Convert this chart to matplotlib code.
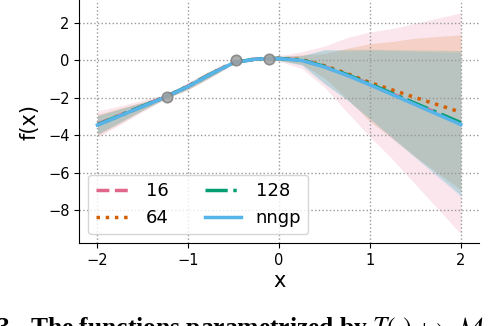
import numpy as np
import matplotlib
matplotlib.use("Agg")
import matplotlib.pyplot as plt

# ---- data ----
x_grid = [-2.0, -1.75, -1.5, -1.25, -1.0, -0.75, -0.5, -0.25, 0.0,
          0.25, 0.5, 0.75, 1.0, 1.25, 1.5, 1.75, 2.0]

labels = ["16", "64", "128", "nngp"]

mean_16 = [-3.40, -2.92, -2.42, -1.93, -1.36, -0.70, -0.10, 0.09, 0.11,
           0.02, -0.33, -0.77, -1.27, -1.79, -2.31, -2.83, -3.36]
mean_64 = [-3.44, -2.94, -2.44, -1.94, -1.37, -0.71, -0.11, 0.09, 0.12,
           0.05, -0.28, -0.70, -1.18, -1.58, -1.98, -2.37, -2.76]
mean_128 = [-3.43, -2.93, -2.43, -1.94, -1.37, -0.71, -0.11, 0.09, 0.11,
            0.02, -0.32, -0.76, -1.25, -1.77, -2.29, -2.80, -3.32]
mean_nngp = [-3.45, -2.95, -2.45, -1.95, -1.38, -0.72, -0.12, 0.08, 0.10,
             0.00, -0.35, -0.80, -1.30, -1.83, -2.36, -2.89, -3.42]

spread_16 = [0.70, 0.50, 0.30, 0.12, 0.20, 0.20, 0.08, 0.08, 0.15,
             0.45, 1.10, 2.00, 2.80, 3.50, 4.30, 5.10, 5.90]
spread_64 = [0.55, 0.40, 0.22, 0.09, 0.17, 0.17, 0.06, 0.06, 0.10,
             0.25, 0.65, 1.35, 2.08, 2.60, 3.17, 3.65, 4.13]
spread_128 = [0.50, 0.35, 0.20, 0.08, 0.15, 0.15, 0.05, 0.05, 0.10,
              0.25, 0.90, 1.35, 1.85, 2.35, 2.85, 3.35, 3.85]
spread_nngp = [0.50, 0.35, 0.20, 0.08, 0.15, 0.15, 0.05, 0.05, 0.10,
               0.25, 0.90, 1.30, 1.85, 2.35, 2.85, 3.35, 3.85]

obs_x = [-1.23, -0.48, -0.11]
obs_y = [-1.93, 0.00, 0.10]

colors = ["#e0668a", "#d55e00", "#029e73", "#56b4e9"]
styles = ["--", ":", "-.", "-"]

means = [mean_16, mean_64, mean_128, mean_nngp]
spreads = [spread_16, spread_64, spread_128, spread_nngp]

plt.rcParams["mathtext.fontset"] = "stix"

fig = plt.figure(figsize=(5.04, 3.26), dpi=100)
ax = fig.add_axes([79.3 / 504, (326 - 243.3) / 326, 399.7 / 504, 243.3 / 326])

xg = np.array(x_grid)
for m, s, c in zip(means, spreads, colors):
    m = np.array(m); s = np.array(s)
    ax.fill_between(xg, m - s, m + s, color=c, alpha=0.16, lw=0)

for m, c, ls, lab in zip(means, colors, styles, labels):
    ax.plot(xg, m, color=c, ls=ls, lw=2.5, label=lab)

ax.plot(obs_x, obs_y, "o", color="#a0a0a0", mec="#808080", mew=1.2,
        ms=7.5, alpha=0.85, zorder=5)

ax.set_xlim(-2.2, 2.2)
ax.set_ylim(-9.76, 3.23)
ax.set_xticks([-2, -1, 0, 1, 2])
ax.set_yticks([2, 0, -2, -4, -6, -8])
ax.tick_params(labelsize=10.5)
ax.grid(True, ls=":", color="#999999", lw=1.0)
for sp in ["top", "right"]:
    ax.spines[sp].set_visible(False)
ax.set_xlabel("x", fontsize=15, labelpad=2)
ax.set_ylabel("f(x)", fontsize=15, labelpad=6)

ax.legend(loc="lower left", ncol=2, fontsize=13.0, handlelength=2.0,
          columnspacing=2.0)

# partially visible caption at the bottom of the crop
fig.text(-3 / 504, -9 / 326, "3.", fontsize=18.4, fontweight="bold",
         family="Liberation Serif", va="baseline", ha="left")
fig.text(30 / 504, -9 / 326,
         r"The functions parametrized by $T(\cdot)$ $\mapsto$ $\mathcal{M}$",
         fontsize=18.4, fontweight="bold", family="Liberation Serif",
         va="baseline", ha="left")

fig.savefig("out.png", dpi=100)
